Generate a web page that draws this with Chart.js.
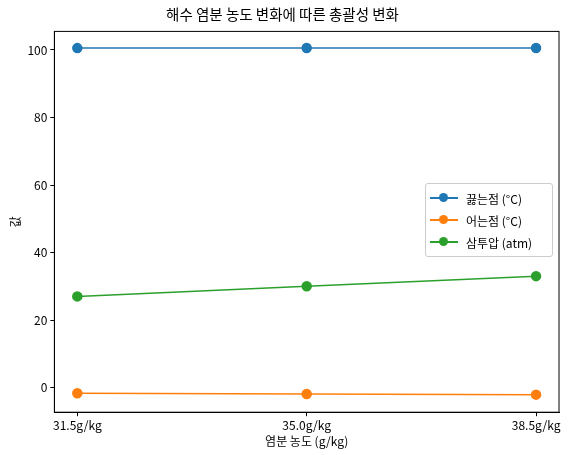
<!DOCTYPE html>
<html><head><meta charset="utf-8">
<script src="https://cdn.jsdelivr.net/npm/chart.js@4"></script>
<style>
body{margin:0;background:#fff;font-family:"Noto Sans CJK KR","Noto Sans",sans-serif}
#wrap{position:relative;width:573px;height:455px}
#legend{position:absolute;left:425px;top:183px;width:126px;border:1px solid #ccc;border-radius:3px;background:rgba(255,255,255,.8);padding:3px 0;font-size:12px}
.it{display:flex;align-items:center;height:22px;padding-left:4px}
.sw{position:relative;width:28px;height:2px;margin-right:8px}
.sw i{position:absolute;left:9px;top:-4px;width:9px;height:9px;border-radius:50%}
</style></head><body>
<div id="wrap"><canvas id="c" width="573" height="455"></canvas><div id="legend"></div></div>
<script>
const categories = ['31.5g/kg', '35.0g/kg', '38.5g/kg']
const boiling = [100.55, 100.57, 100.6]
const freezing = [-1.7, -1.9, -2.1]
const osmotic = [27, 30, 33]
const names = ['끓는점 (°C)', '어는점 (°C)', '삼투압 (atm)']
const colors = ['#1f77b4', '#ff7f0e', '#2ca02c']

const series = [boiling, freezing, osmotic]
const datasets = series.map((s, i) => ({
    label: names[i],
    data: s.map((v, j) => ({x: j, y: v})),
    borderColor: colors[i],
    backgroundColor: colors[i],
    borderWidth: 1.5,
    pointRadius: 4.5,
    pointHoverRadius: 4.5
}))

document.getElementById('legend').innerHTML = names.map((n, i) =>
    `<div class="it"><span class="sw" style="background:${colors[i]}"><i style="background:${colors[i]}"></i></span>${n}</div>`).join('')

const font = {family: '"Noto Sans CJK KR","Noto Sans",sans-serif', size: 12}
const tickGrid = {display: true, drawOnChartArea: false, drawTicks: true, tickLength: 4, color: '#000'}
new Chart(document.getElementById('c'), {
    type: 'line',
    data: {datasets},
    options: {
        responsive: false,
        animation: false,
        layout: {padding: {right: 14, top: 4, left: 6, bottom: 6}},
        plugins: {
            legend: {display: false},
            tooltip: {enabled: false},
            title: {display: true, text: '해수 염분 농도 변화에 따른 총괄성 변화', color: '#000', font: {...font, size: 14.5, weight: 'normal'}, padding: {top: 2, bottom: 8}}
        },
        scales: {
            x: {
                type: 'linear', min: -0.1, max: 2.1,
                afterBuildTicks: ax => { ax.ticks = categories.map((c, i) => ({value: i})) },
                ticks: {callback: v => categories[v], color: '#000', font, maxRotation: 0, padding: 2},
                grid: tickGrid,
                border: {color: '#000'},
                title: {display: true, text: '염분 농도 (g/kg)', color: '#000', font, padding: 0}
            },
            y: {
                min: -7.3, max: 105.5,
                afterBuildTicks: ax => { ax.ticks = [0, 20, 40, 60, 80, 100].map(v => ({value: v})) },
                ticks: {color: '#000', font, padding: 3},
                grid: tickGrid,
                border: {color: '#000'},
                title: {display: true, text: '값', color: '#000', font, padding: 2}
            }
        }
    },
    plugins: [{
        id: 'frame',
        afterDraw(ch) {
            const {left, right, top, bottom} = ch.chartArea, c = ch.ctx
            c.save(); c.strokeStyle = '#000'; c.lineWidth = 1
            c.strokeRect(left, top, right - left, bottom - top); c.restore()
        }
    }]
})
</script></body></html>
